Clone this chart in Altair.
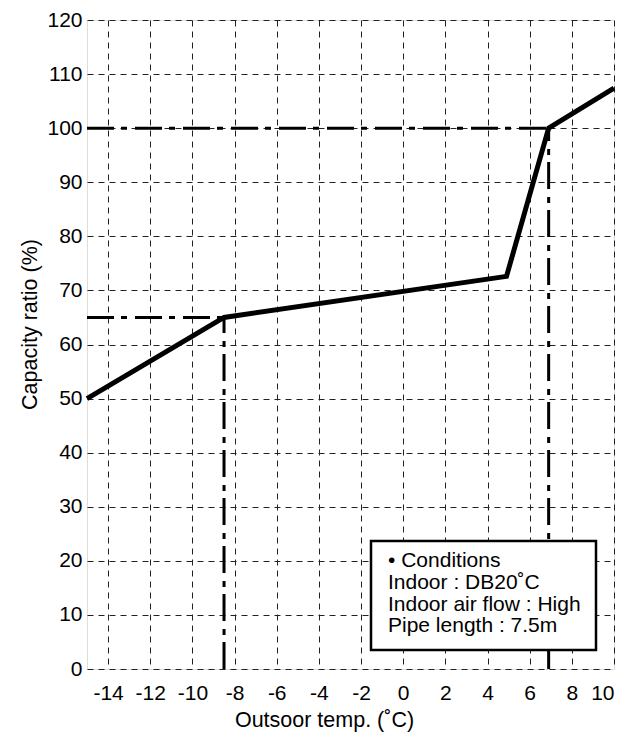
import altair as alt
import pandas as pd

# Capacity curve
temp = [-15, -8.5, 4.9, 6.9, 10]
capacity = [50, 65, 72.6, 100, 107.4]

# Reference (dash-dot) guides
ref_x1 = [-15, -15, -8.5, 6.9]
ref_x2 = [-8.5, 6.9, -8.5, 6.9]
ref_y1 = [65, 100, 0, 0]
ref_y2 = [65, 100, 65, 100]

x_ticks = [-14, -12, -10, -8, -6, -4, -2, 0, 2, 4, 6, 8, 10]
y_ticks = [0, 10, 20, 30, 40, 50, 60, 70, 80, 90, 100, 110, 120]

legend_lines = ["• Conditions", "Indoor : DB20˚C", "Indoor air flow : High", "Pipe length : 7.5m"]

FONT = "Liberation Sans"
W, H = 527, 649

curve = pd.DataFrame({"t": temp, "c": capacity})
refs = pd.DataFrame({"x1": ref_x1, "x2": ref_x2, "y1": ref_y1, "y2": ref_y2})

xscale = alt.Scale(domain=[-15, 10], nice=False, zero=False)
yscale = alt.Scale(domain=[0, 120], nice=False)

xaxis = alt.Axis(values=x_ticks, title="Outsoor temp. (˚C)", grid=True,
                 gridDash=[6, 5], gridColor="#222", gridWidth=1,
                 domain=False, ticks=False, labelPadding=13,
                 labelExpr="'' + datum.value",
                 labelFontSize=21, labelFont=FONT, labelColor="black",
                 titleFont=FONT, titleFontSize=21.5, titleFontWeight="normal",
                 titleColor="black", titleX=237, titleY=51,
                 titleBaseline="middle", titleAlign="center")
yaxis = alt.Axis(values=y_ticks, title="Capacity ratio (%)", grid=True,
                 gridDash=[6, 5], gridColor="#222", gridWidth=1,
                 domain=False, ticks=False, labelPadding=5,
                 labelFontSize=21, labelFont=FONT, labelColor="black",
                 titleFont=FONT, titleFontSize=21.5, titleFontWeight="normal",
                 titleColor="black", titleX=-57, titleY=304, titleAngle=-90,
                 titleBaseline="middle", titleAlign="center")

base_line = alt.Chart(curve).mark_line(color="black", strokeWidth=5, strokeJoin="miter").encode(
    x=alt.X("t:Q", scale=xscale, axis=xaxis),
    y=alt.Y("c:Q", scale=yscale, axis=yaxis),
)

ref_rules = alt.Chart(refs).mark_rule(color="black", strokeWidth=3, strokeDash=[27, 7, 6, 8]).encode(
    x=alt.X("x1:Q", scale=xscale),
    x2="x2:Q",
    y=alt.Y("y1:Q", scale=yscale),
    y2="y2:Q",
)

box = alt.Chart(pd.DataFrame({"a": [0]})).mark_rect(
    fill="white", stroke="black", strokeWidth=2.5
).encode(
    x=alt.value(284), x2=alt.value(509), y=alt.value(521), y2=alt.value(630)
)

text_layers = []
baselines = [547, 569, 591, 612]
for line, yb in zip(legend_lines, baselines):
    text_layers.append(
        alt.Chart(pd.DataFrame({"a": [0]})).mark_text(
            text=line, font=FONT, fontSize=21, align="left", baseline="alphabetic", color="black"
        ).encode(x=alt.value(301), y=alt.value(yb))
    )

chart = alt.layer(ref_rules, base_line, box, *text_layers).properties(
    width=W, height=H,
    autosize=alt.AutoSizeParams(type="none"),
    padding={"left": 79, "top": 12, "right": 20, "bottom": 70},
).configure_view(
    stroke="black", strokeWidth=2.5
).configure(background="white")

chart.save("out.html", embed_options={"renderer": "svg", "actions": False})
